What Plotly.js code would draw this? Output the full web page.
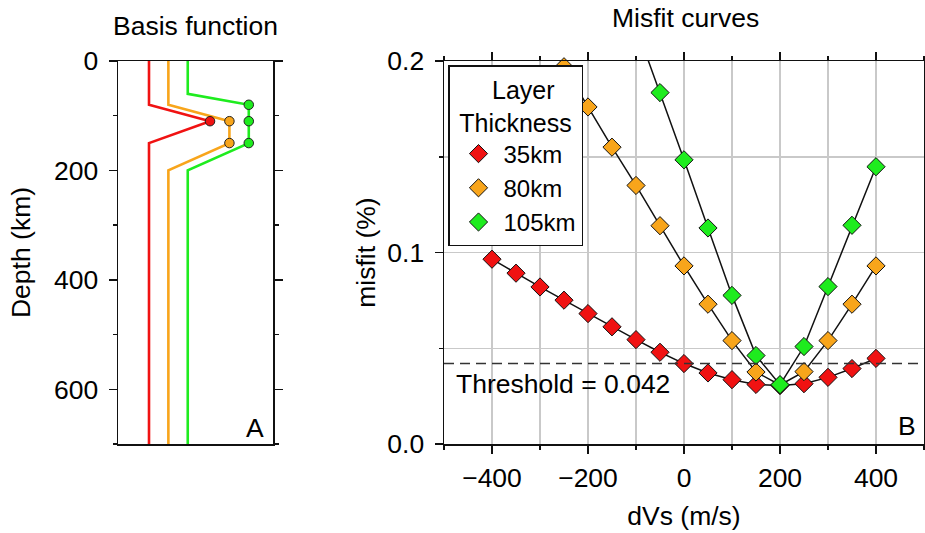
<!DOCTYPE html>
<html><head><meta charset="utf-8">
<script src="https://cdn.plot.ly/plotly-3.0.1.min.js"></script>
<style>html,body{margin:0;padding:0;background:#fff}#chart{width:925px;height:533px}</style>
</head><body><div id="chart"></div>
<script>
// ---- Panel A: basis functions (depth in km, normalised amplitude) ----
const depthRed    = [0, 80, 110, 150, 700];
const ampRed      = [0, 0, 1, 0, 0];
const depthOrange = [0, 80, 110, 150, 200, 700];
const ampOrange   = [0, 0, 1, 1, 0, 0];
const depthGreen  = [0, 60, 80, 110, 150, 200, 700];
const ampGreen    = [0, 0, 1, 1, 1, 0, 0];

// ---- Panel B: misfit curves ----
const dVs = [-400, -350, -300, -250, -200, -150, -100, -50, 0, 50, 100, 150, 200, 250, 300, 350, 400];
const misfit35  = [0.0965, 0.0892, 0.0820, 0.0751, 0.0681, 0.0612, 0.0545, 0.0479, 0.0420, 0.0371, 0.0336, 0.0311, 0.0305, 0.0315, 0.0348, 0.0394, 0.0447];
const misfit80  = [null, null, 0.217, 0.197, 0.176, 0.155, 0.135, 0.114, 0.093, 0.073, 0.054, 0.0376, 0.0308, 0.0378, 0.054, 0.073, 0.093];
const misfit105 = [null, null, null, null, null, null, 0.218, 0.1835, 0.1484, 0.1128, 0.0776, 0.0462, 0.0310, 0.0509, 0.0822, 0.1142, 0.1448];
const seriesNames = ['35km', '80km', '105km'];
const threshold = 0.042;

const COLORS = ['#f01212', '#f8a51b', '#1eec1e'];
const W = 925, H = 533;
const fx = p => p / W;
const fy = p => 1 - p / H;
const FONT = 'Liberation Sans, Arial, Helvetica, sans-serif';
const FS = 26.5;

// display offsets for the stacked basis functions
const OFFS = [1.6, 2.6, 3.6];
const AMP = 3.15;

const basis = [[depthRed, ampRed], [depthOrange, ampOrange], [depthGreen, ampGreen]];
const traces = [];
basis.forEach(([d, a], i) => {
  traces.push({
    x: a.map(v => OFFS[i] + AMP * v), y: d, xaxis: 'x', yaxis: 'y',
    mode: 'lines', line: {color: COLORS[i], width: 2.6}, showlegend: false, hoverinfo: 'skip'
  });
});
basis.forEach(([d, a], i) => {
  const xs = [], ys = [];
  a.forEach((v, k) => { if (v === 1) { xs.push(OFFS[i] + AMP * v); ys.push(d[k]); } });
  traces.push({
    x: xs, y: ys, xaxis: 'x', yaxis: 'y', mode: 'markers',
    marker: {symbol: 'circle', size: 9.5, color: COLORS[i], line: {color: '#222', width: 1}},
    showlegend: false, hoverinfo: 'skip', cliponaxis: false
  });
});

const misfits = [misfit35, misfit80, misfit105];
misfits.forEach((m) => {
  traces.push({
    x: dVs, y: m, xaxis: 'x2', yaxis: 'y2', mode: 'lines',
    line: {color: '#111', width: 1.5}, showlegend: false, connectgaps: false, hoverinfo: 'skip'
  });
});
misfits.forEach((m, i) => {
  traces.push({
    x: dVs, y: m.map(v => (v !== null && v <= 0.2) ? v : null), xaxis: 'x2', yaxis: 'y2',
    mode: 'markers', name: seriesNames[i],
    marker: {symbol: 'diamond', size: 14, color: COLORS[i], line: {color: '#111', width: 1}},
    cliponaxis: false
  });
});

const axLine = {showline: true, linecolor: '#111', linewidth: 1.5, zeroline: false};
const tickF = {family: FONT, size: FS, color: '#000'};
const NB = '\u00a0';

const layout = {
  width: W, height: H,
  margin: {l: 0, r: 0, t: 0, b: 0},
  paper_bgcolor: '#fff', plot_bgcolor: '#fff',
  font: {family: FONT, size: FS, color: '#000'},
  showlegend: true,
  xaxis: Object.assign({}, axLine, {
    domain: [fx(118), fx(273)], range: [0, 8], showticklabels: false, ticks: '',
    showgrid: false, mirror: true, anchor: 'y', fixedrange: true
  }),
  yaxis: Object.assign({}, axLine, {
    domain: [fy(444), fy(61)], range: [700, 0], dtick: 200, tick0: 0,
    ticks: 'outside', ticklen: 8, tickwidth: 1.5, tickcolor: '#111', mirror: 'ticks',
    minor: {dtick: 100, ticks: 'outside', ticklen: 4, tickwidth: 1.5, tickcolor: '#111', showgrid: false},
    showgrid: false, tickfont: tickF, ticklabelstandoff: 5, anchor: 'x',
    title: {text: 'Depth (km)', font: {family: FONT, size: FS}, standoff: 15}
  }),
  xaxis2: Object.assign({}, axLine, {
    domain: [fx(444), fx(924)], range: [-500, 500], dtick: 200, tick0: 0,
    ticks: 'outside', ticklen: 8, tickwidth: 1.5, tickcolor: '#111', mirror: 'ticks',
    showgrid: true, gridcolor: '#c9c9c9', gridwidth: 1.5,
    minor: {dtick: 100, ticks: 'outside', ticklen: 4, tickwidth: 1.5, tickcolor: '#111', showgrid: true, gridcolor: '#c9c9c9', gridwidth: 1.5},
    tickfont: tickF, anchor: 'y2', ticklabelstandoff: 2,
    title: {text: 'dVs (m/s)', font: {family: FONT, size: FS}, standoff: 14}
  }),
  yaxis2: Object.assign({}, axLine, {
    domain: [fy(444), fy(61)], range: [0, 0.2], dtick: 0.1, tick0: 0, tickformat: '.1f',
    ticks: 'outside', ticklen: 8, tickwidth: 1.5, tickcolor: '#111', mirror: 'ticks',
    showgrid: true, gridcolor: '#c9c9c9', gridwidth: 1.5,
    minor: {dtick: 0.05, ticks: 'outside', ticklen: 4, tickwidth: 1.5, tickcolor: '#111', showgrid: true, gridcolor: '#c9c9c9', gridwidth: 1.5},
    tickfont: tickF, anchor: 'x2', ticklabelstandoff: 5,
    title: {text: 'misfit (%)', font: {family: FONT, size: FS}, standoff: 4}
  }),
  legend: {
    x: fx(448), y: fy(65), xanchor: 'left', yanchor: 'top',
    bgcolor: '#fff', bordercolor: '#111', borderwidth: 1.5,
    font: {family: FONT, size: 24, color: '#000'},
    title: {text: NB + NB + NB + NB + NB + '\u2009' + 'Layer<br>' + NB + 'Thickness' + NB, side: 'top center', font: {family: FONT, size: 25}},
    itemwidth: 40, indentation: 4, traceorder: 'normal'
  },
  shapes: [{
    type: 'line', xref: 'x2 domain', yref: 'y2', x0: 0, x1: 1, y0: threshold, y1: threshold,
    line: {color: '#333', width: 1.5, dash: '10px,6px'}, layer: 'above'
  }],
  annotations: [
    {text: 'Basis function', xref: 'paper', yref: 'paper', x: fx(195.5), y: fy(26), xanchor: 'center', yanchor: 'middle', showarrow: false, font: {family: FONT, size: FS}},
    {text: 'Misfit curves', xref: 'paper', yref: 'paper', x: fx(685), y: fy(17.5), xanchor: 'center', yanchor: 'middle', showarrow: false, font: {family: FONT, size: FS}},
    {text: 'A', xref: 'paper', yref: 'paper', x: fx(254.5), y: fy(428), xanchor: 'center', yanchor: 'middle', showarrow: false, font: {family: FONT, size: FS}},
    {text: 'B', xref: 'paper', yref: 'paper', x: fx(907), y: fy(426), xanchor: 'center', yanchor: 'middle', showarrow: false, font: {family: FONT, size: FS}},
    {text: 'Threshold = ' + threshold, xref: 'paper', yref: 'paper', x: fx(454), y: fy(384), xanchor: 'left', yanchor: 'middle', showarrow: false, font: {family: FONT, size: FS}}
  ]
};

Plotly.newPlot('chart', traces, layout, {staticPlot: true, displayModeBar: false});
</script>
</body></html>
